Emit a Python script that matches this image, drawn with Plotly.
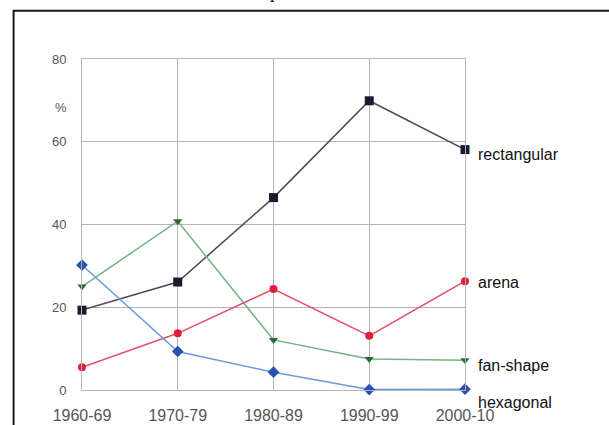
import plotly.graph_objects as go

periods = ["1960-69", "1970-79", "1980-89", "1990-99", "2000-10"]
rectangular = [19.3, 26.1, 46.5, 69.9, 58.1]
fan_shape = [25.0, 40.8, 12.1, 7.5, 7.2]
arena = [5.5, 13.7, 24.4, 13.1, 26.3]
hexagonal = [30.2, 9.3, 4.3, 0.1, 0.2]
y_ticks = [0, 20, 40, 60, 80]

FONT = "Liberation Sans, Arial, sans-serif"
xs = list(range(len(periods)))
Y_MAX = 80

series = [
    ("rectangular", rectangular, "#4b4b55", "#1b1b2e", "square", 9, 57.0),
    ("fan-shape", fan_shape, "#72b383", "#2b6a38", "triangle-down", 8, 5.9),
    ("arena", arena, "#e4506a", "#e21d3a", "circle", 8, 25.9),
    ("hexagonal", hexagonal, "#6b9bdb", "#2a52b0", "diamond", 9, -3.1),
]

fig = go.Figure()
for name, vals, lc, mc, sym, ms, ly in series:
    fig.add_trace(go.Scatter(
        x=xs, y=vals, mode="lines+markers", name=name,
        line=dict(color=lc, width=1.5),
        marker=dict(color=mc, symbol=sym, size=ms),
        cliponaxis=False, showlegend=False,
    ))
    fig.add_annotation(x=4, y=ly / Y_MAX, yref="paper", text=name, showarrow=False,
                       xanchor="left", yanchor="middle", xshift=11,
                       font=dict(family=FONT, size=16, color="#111111"))

fig.add_annotation(x=0, y=68.2, text="%", showarrow=False, xref="paper",
                   xanchor="right", yanchor="middle", xshift=-13,
                   font=dict(family=FONT, size=13, color="#555555"))

# page fragments: outer frame and cut-off caption letter
fig.add_shape(type="rect", xref="paper", yref="paper",
              x0=-0.1786, x1=2.0, y0=-0.5, y1=1.146,
              line=dict(color="#1a1a1a", width=2), fillcolor="rgba(0,0,0,0)")
fig.add_annotation(x=0.505, y=1.203, xref="paper", yref="paper", text="p",
                   showarrow=False, xanchor="center", yanchor="middle",
                   font=dict(family="Liberation Serif, Times New Roman, serif", size=19, color="#111111"))

fig.update_xaxes(
    range=[0, 4], tickvals=xs, ticktext=periods, automargin=False,
    showgrid=True, gridcolor="#b5b5b5", gridwidth=1,
    showline=True, linecolor="#b5b5b5", linewidth=1, mirror=True,
    zeroline=False, ticks="", ticklabelstandoff=11,
    tickfont=dict(family=FONT, size=16, color="#555555"),
)
fig.update_yaxes(
    range=[0, Y_MAX], tickvals=y_ticks, automargin=False,
    showgrid=True, gridcolor="#b5b5b5", gridwidth=1,
    showline=True, linecolor="#b5b5b5", linewidth=1, mirror=True,
    zeroline=False, ticks="", ticklabelstandoff=12,
    tickfont=dict(family=FONT, size=13, color="#555555"),
)
fig.update_layout(
    width=609, height=425,
    margin=dict(l=81.5, r=144, t=59, b=35),
    paper_bgcolor="white", plot_bgcolor="white",
    font=dict(family=FONT),
)
fig.write_html("out.html", config={"displayModeBar": False},
               post_script="document.body.style.margin='0px';")
